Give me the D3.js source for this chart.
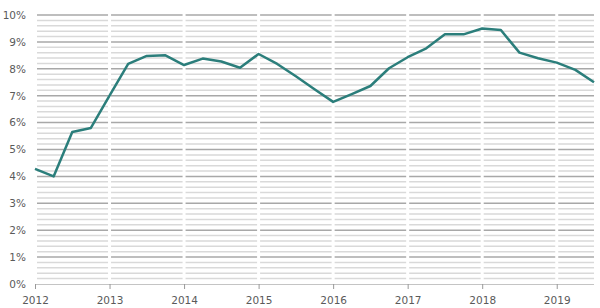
<!DOCTYPE html>
<html><head><meta charset="utf-8">
<script src="https://cdn.jsdelivr.net/npm/d3@7"></script>
<style>body{margin:0;background:#fff}svg{display:block}</style>
</head><body>
<script>
const quarters = ["2012Q1","2012Q2","2012Q3","2012Q4","2013Q1","2013Q2","2013Q3","2013Q4",
"2014Q1","2014Q2","2014Q3","2014Q4","2015Q1","2015Q2","2015Q3","2015Q4",
"2016Q1","2016Q2","2016Q3","2016Q4","2017Q1","2017Q2","2017Q3","2017Q4",
"2018Q1","2018Q2","2018Q3","2018Q4","2019Q1","2019Q2","2019Q3"];
const values = [4.28,4.0,5.65,5.8,7.0,8.18,8.48,8.5,
8.14,8.38,8.27,8.04,8.55,8.18,7.72,7.24,
6.77,7.06,7.36,8.02,8.43,8.76,9.28,9.28,
9.5,9.44,8.6,8.39,8.23,7.96,7.5];
const yearTicks = [2012,2013,2014,2015,2016,2017,2018,2019];
const yTicks = [0,1,2,3,4,5,6,7,8,9,10];

const W=600,H=308;
const svg=d3.select("body").append("svg").attr("width",W).attr("height",H);
const x=d3.scaleLinear().domain([2012,2019.5]).range([35,594]);
const y=d3.scaleLinear().domain([0,10]).range([284,15]);
const toX = q => +q.slice(0,4) + (+q.slice(5)-1)/4;

// grid
const minor = d3.range(0,10.001,0.2).map(v=>+v.toFixed(1));
const g=svg.append("g");
g.selectAll("line.grid").data(minor.filter(v=>v>0)).join("line")
  .attr("x1",37).attr("x2",594)
  .attr("y1",d=>y(d)).attr("y2",d=>y(d))
  .attr("stroke",d=>Math.abs(d-Math.round(d))<1e-6?"#a8a8a8":"#d9d9d9")
  .attr("stroke-width",1.5);
// white vertical gaps at years
g.selectAll("line.gap").data(yearTicks.slice(1)).join("line")
  .attr("x1",d=>x(d)).attr("x2",d=>x(d)).attr("y1",10).attr("y2",284)
  .attr("stroke","#fff").attr("stroke-width",3);

// x axis
const xa=svg.append("g").attr("transform","translate(0,284)")
  .call(d3.axisBottom(x).tickValues(yearTicks).tickFormat(d3.format("d")).tickSize(5).tickSizeOuter(0));
xa.select(".domain").attr("stroke","#c4c4c4").attr("d","M35,0.5H594");
xa.selectAll(".tick line").attr("stroke","#999");
xa.selectAll("text").attr("fill","#5a5a5a").attr("font-family","DejaVu Sans, sans-serif").attr("font-size","10.5px").attr("dy","1.1em");

// y labels
const ya=svg.append("g").attr("transform","translate(26,0)")
  .call(d3.axisLeft(y).tickValues(yTicks).tickFormat(d=>d+"%").tickSize(0));
ya.select(".domain").remove();
ya.selectAll("text").attr("fill","#5a5a5a").attr("font-family","DejaVu Sans, sans-serif").attr("font-size","10.5px").attr("x",0);

// line
const line=d3.line().x((d,i)=>x(toX(quarters[i]))).y(d=>y(d));
svg.append("path").datum(values).attr("d",line).attr("fill","none")
  .attr("stroke","#2b7e7b").attr("stroke-width",2.5).attr("stroke-linejoin","round");
</script>
</body></html>
